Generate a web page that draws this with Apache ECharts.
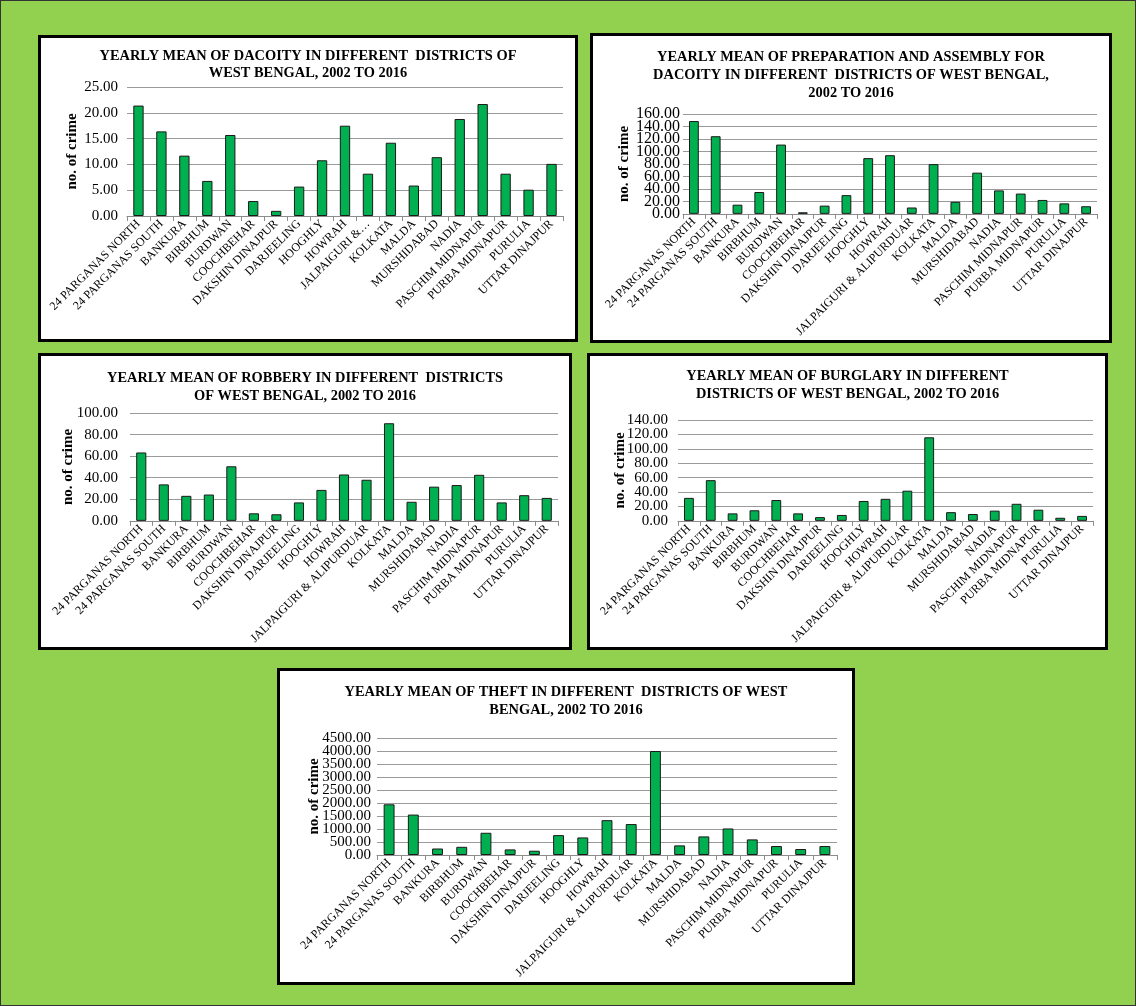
<!DOCTYPE html>
<html>
<head>
<meta charset="utf-8">
<script src="https://cdn.jsdelivr.net/npm/echarts@6/dist/echarts.min.js"></script>
<style>
  html, body { margin:0; padding:0; }
  body { width:1136px; height:1006px; background:#92D050; position:relative; overflow:hidden; }
  #frame { position:absolute; left:0; top:0; width:1136px; height:1006px; box-sizing:border-box; border:1px solid #333; }
  .panel { position:absolute; box-sizing:border-box; border:3px solid #000; background:#fff; }
  .panel > div { position:absolute; left:0; top:0; right:0; bottom:0; }
</style>
</head>
<body>
<div id="frame"></div>
<div class="panel" style="left:38px;top:35px;width:540px;height:307px;"><div id="c1"></div></div>
<div class="panel" style="left:590px;top:33px;width:522px;height:310px;"><div id="c2"></div></div>
<div class="panel" style="left:38px;top:353px;width:534px;height:297px;"><div id="c3"></div></div>
<div class="panel" style="left:587px;top:353px;width:521px;height:297px;"><div id="c4"></div></div>
<div class="panel" style="left:277px;top:668px;width:578px;height:317px;"><div id="c5"></div></div>
<script>
const districts = ["24 PARGANAS NORTH","24 PARGANAS SOUTH","BANKURA","BIRBHUM","BURDWAN","COOCHBEHAR","DAKSHIN DINAJPUR","DARJEELING","HOOGHLY","HOWRAH","JALPAIGURI & ALIPURDUAR","KOLKATA","MALDA","MURSHIDABAD","NADIA","PASCHIM MIDNAPUR","PURBA MIDNAPUR","PURULIA","UTTAR DINAJPUR"];

const dacoity = [21.4, 16.4, 11.7, 6.8, 15.7, 2.9, 1.0, 5.7, 10.8, 17.5, 8.2, 14.2, 5.9, 11.4, 18.8, 21.7, 8.2, 5.1, 10.1];
const preparation = [148.7, 124.4, 14.7, 35.0, 111.0, 2.5, 13.2, 30.0, 89.3, 94.0, 10.2, 79.7, 19.3, 66.0, 37.6, 32.5, 22.3, 16.8, 12.2];
const robbery = [63.4, 33.8, 23.2, 24.4, 50.6, 7.0, 6.1, 17.1, 28.7, 43.0, 38.1, 90.5, 17.7, 31.7, 33.2, 42.7, 17.1, 23.8, 21.3];
const burglary = [31.9, 56.5, 10.4, 14.7, 28.9, 10.4, 5.2, 8.2, 27.6, 30.6, 41.9, 116.0, 12.1, 9.5, 14.2, 23.7, 15.5, 4.3, 6.9];
const theft = [1950, 1555, 250, 315, 855, 215, 165, 765, 675, 1340, 1190, 4000, 370, 715, 1020, 600, 345, 230, 345];

const titles = [
  "YEARLY MEAN OF DACOITY IN DIFFERENT  DISTRICTS OF\nWEST BENGAL, 2002 TO 2016",
  "YEARLY MEAN OF PREPARATION AND ASSEMBLY FOR\nDACOITY IN DIFFERENT  DISTRICTS OF WEST BENGAL,\n2002 TO 2016",
  "YEARLY MEAN OF ROBBERY IN DIFFERENT  DISTRICTS\nOF WEST BENGAL, 2002 TO 2016",
  "YEARLY MEAN OF BURGLARY IN DIFFERENT\nDISTRICTS OF WEST BENGAL, 2002 TO 2016",
  "YEARLY MEAN OF THEFT IN DIFFERENT  DISTRICTS OF WEST\nBENGAL, 2002 TO 2016"
];
const axisName = "no. of crime";

const FONT = '"Liberation Serif", "Times New Roman", serif';

function makeChart(id, cfg) {
  const chart = echarts.init(document.getElementById(id), null, { renderer: 'canvas' });
  const labelBase = { fontFamily: FONT, fontSize: cfg.yFont || 15, color: '#000', margin: cfg.yMargin || 9,
    showMinLabel: true, showMaxLabel: true, hideOverlap: false };
  // two overlaid value axes with identical scale, each labelling alternate ticks
  const yCommon = { type: 'value', min: 0, max: cfg.max, interval: cfg.interval, position: 'left', offset: 0,
    axisLine: { show: false }, axisTick: { show: false } };
  chart.setOption({
    animation: false,
    textStyle: { fontFamily: FONT, color: '#000' },
    title: {
      text: cfg.title, left: 'center', top: cfg.titleTop, padding: 0,
      textStyle: { fontFamily: FONT, fontSize: 14.4, fontWeight: 'bold', color: '#000', lineHeight: cfg.titleLH || 17 }
    },
    grid: { left: cfg.grid[0], top: cfg.grid[1], width: cfg.grid[2], height: cfg.grid[3], containLabel: false },
    xAxis: {
      type: 'category', data: districts,
      axisLine: { show: true, lineStyle: { color: '#8c8c8c', width: 1 } },
      axisTick: { show: true, length: 5, lineStyle: { color: '#8c8c8c' } },
      axisLabel: {
        interval: 0, rotate: 45, fontFamily: FONT, fontSize: 12, color: '#000', margin: 6,
        formatter: cfg.xFormatter || (v => v)
      },
      splitLine: { show: false }
    },
    yAxis: [
      Object.assign({}, yCommon, {
        name: axisName, nameLocation: 'middle', nameGap: cfg.nameGap, nameRotate: 90, nameMoveOverlap: false,
        nameTextStyle: { fontFamily: FONT, fontSize: 15, fontWeight: 'bold', color: '#000' },
        axisLabel: Object.assign({}, labelBase, {
          formatter: v => (Math.round(v / cfg.interval) % 2 === 0 ? v.toFixed(2) : '') }),
        splitLine: { show: true, lineStyle: { color: '#9a9a9a', width: 1 } }
      }),
      Object.assign({}, yCommon, {
        axisLabel: Object.assign({}, labelBase, {
          formatter: v => (Math.round(v / cfg.interval) % 2 === 1 ? v.toFixed(2) : '') }),
        splitLine: { show: false }
      })
    ],
    series: [{
      type: 'bar', data: cfg.data, barWidth: '45%', yAxisIndex: 0,
      itemStyle: { color: '#00B050', borderColor: '#1a1a1a', borderWidth: 1 }
    }]
  });
}

makeChart('c1', { title: titles[0], titleTop: 9.5, grid: [86, 49, 436, 129], max: 25, interval: 5, nameGap: 47, data: dacoity,
  xFormatter: v => v.startsWith('JALPAIGURI') ? 'JALPAIGURI &…' : v });
makeChart('c2', { title: titles[1], titleTop: 12, titleLH: 18, grid: [90, 78, 414, 105], max: 160, interval: 20, nameGap: 51, data: preparation, yMargin: 3, yFont: 16 });
makeChart('c3', { title: titles[2], titleTop: 13, titleLH: 18, grid: [89, 57, 428, 110], max: 100, interval: 20, nameGap: 54, data: robbery, yMargin: 12 });
makeChart('c4', { title: titles[3], titleTop: 11, titleLH: 18, grid: [88, 64, 415, 104], max: 140, interval: 20, nameGap: 50, data: burglary, yMargin: 10 });
makeChart('c5', { title: titles[4], titleTop: 12, titleLH: 18, grid: [97, 67, 460, 117], max: 4500, interval: 500, nameGap: 55, data: theft, yMargin: 6 });
</script>
</body>
</html>
